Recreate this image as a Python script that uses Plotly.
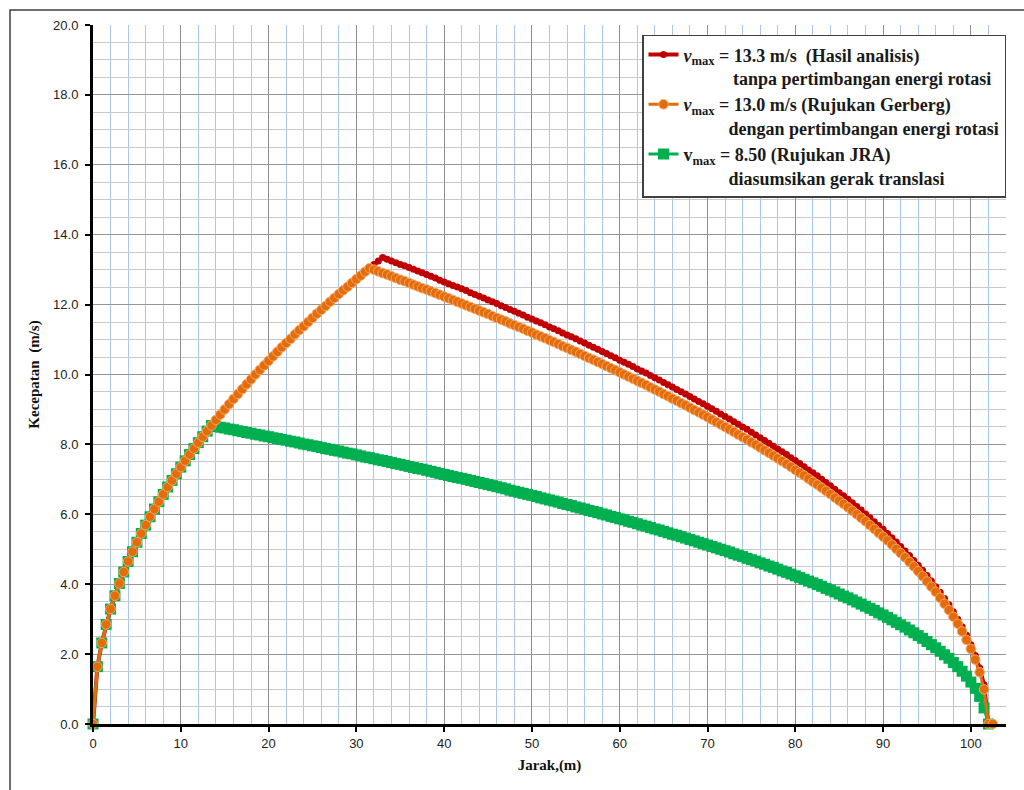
import plotly.graph_objects as go

# Sampling step along the track (m); every series is sampled every 0.5 m from x = 0
STEP_M = 0.5

# v_max = 13.3 m/s (Hasil analisis) - speed (m/s) at x = 0, 0.5, 1.0, ... 102.0 m
V_HASIL = [
    0.00, 1.64, 2.32, 2.85, 3.29, 3.67, 4.02, 4.35, 4.65, 4.93, 5.20, 5.45, 5.69, 5.93, 6.15, 6.36, 6.57, 6.78, 6.97, 7.16,
    7.35, 7.53, 7.71, 7.88, 8.05, 8.22, 8.38, 8.54, 8.70, 8.85, 9.00, 9.15, 9.30, 9.44, 9.58, 9.72, 9.86, 10.00, 10.13, 10.26,
    10.39, 10.52, 10.65, 10.78, 10.90, 11.02, 11.15, 11.27, 11.38, 11.50, 11.62, 11.74, 11.85, 11.96, 12.08, 12.19, 12.30, 12.41, 12.51, 12.62,
    12.73, 12.83, 12.94, 13.04, 13.15, 13.25, 13.35, 13.30, 13.25, 13.20, 13.15, 13.11, 13.06, 13.01, 12.96, 12.91, 12.86, 12.81, 12.76, 12.70,
    12.65, 12.60, 12.55, 12.50, 12.45, 12.40, 12.34, 12.29, 12.24, 12.19, 12.13, 12.08, 12.03, 11.97, 11.92, 11.86, 11.81, 11.75, 11.70, 11.64,
    11.59, 11.53, 11.48, 11.42, 11.36, 11.31, 11.25, 11.19, 11.13, 11.08, 11.02, 10.96, 10.90, 10.84, 10.78, 10.72, 10.66, 10.60, 10.54, 10.48,
    10.41, 10.35, 10.29, 10.23, 10.16, 10.10, 10.04, 9.97, 9.91, 9.84, 9.77, 9.71, 9.64, 9.57, 9.51, 9.44, 9.37, 9.30, 9.23, 9.16,
    9.09, 9.02, 8.95, 8.87, 8.80, 8.73, 8.65, 8.58, 8.50, 8.43, 8.35, 8.27, 8.19, 8.11, 8.03, 7.95, 7.87, 7.79, 7.71, 7.62,
    7.54, 7.45, 7.36, 7.27, 7.19, 7.10, 7.00, 6.91, 6.82, 6.72, 6.62, 6.53, 6.43, 6.33, 6.22, 6.12, 6.01, 5.90, 5.79, 5.68,
    5.57, 5.45, 5.33, 5.21, 5.08, 4.95, 4.82, 4.68, 4.54, 4.40, 4.25, 4.09, 3.93, 3.77, 3.59, 3.41, 3.21, 3.00, 2.78, 2.54,
    2.27, 1.96, 1.60, 1.12, 0.00,
]

# v_max = 13.0 m/s (Rujukan Gerberg) - speed (m/s) at x = 0 ... 102.5 m
V_GERBERG = [
    0.00, 1.64, 2.32, 2.85, 3.29, 3.67, 4.02, 4.35, 4.65, 4.93, 5.20, 5.45, 5.69, 5.93, 6.15, 6.36, 6.57, 6.78, 6.97, 7.16,
    7.35, 7.53, 7.71, 7.88, 8.05, 8.22, 8.38, 8.54, 8.70, 8.85, 9.00, 9.15, 9.30, 9.44, 9.58, 9.72, 9.86, 10.00, 10.13, 10.26,
    10.39, 10.52, 10.65, 10.78, 10.90, 11.02, 11.15, 11.27, 11.38, 11.50, 11.62, 11.74, 11.85, 11.96, 12.08, 12.19, 12.30, 12.41, 12.51, 12.62,
    12.73, 12.83, 12.94, 13.04, 13.00, 12.95, 12.90, 12.86, 12.81, 12.76, 12.71, 12.67, 12.62, 12.57, 12.52, 12.47, 12.43, 12.38, 12.33, 12.28,
    12.23, 12.18, 12.13, 12.08, 12.03, 11.98, 11.93, 11.88, 11.83, 11.78, 11.73, 11.67, 11.62, 11.57, 11.52, 11.46, 11.41, 11.36, 11.31, 11.25,
    11.20, 11.14, 11.09, 11.04, 10.98, 10.93, 10.87, 10.81, 10.76, 10.70, 10.65, 10.59, 10.53, 10.47, 10.42, 10.36, 10.30, 10.24, 10.18, 10.12,
    10.06, 10.00, 9.94, 9.88, 9.82, 9.76, 9.70, 9.63, 9.57, 9.51, 9.44, 9.38, 9.31, 9.25, 9.18, 9.12, 9.05, 8.98, 8.92, 8.85,
    8.78, 8.71, 8.64, 8.57, 8.50, 8.43, 8.36, 8.28, 8.21, 8.14, 8.06, 7.99, 7.91, 7.83, 7.76, 7.68, 7.60, 7.52, 7.44, 7.36,
    7.27, 7.19, 7.11, 7.02, 6.93, 6.85, 6.76, 6.67, 6.58, 6.48, 6.39, 6.30, 6.20, 6.10, 6.00, 5.90, 5.80, 5.69, 5.58, 5.47,
    5.36, 5.25, 5.13, 5.01, 4.89, 4.77, 4.64, 4.51, 4.37, 4.23, 4.08, 3.93, 3.78, 3.61, 3.44, 3.26, 3.07, 2.87, 2.65, 2.41,
    2.15, 1.84, 1.48, 0.99, 0.00, 0.00,
]

# v_max = 8.50 (Rujukan JRA) - speed (m/s) at x = 0 ... 102.0 m
V_JRA = [
    0.00, 1.64, 2.32, 2.85, 3.29, 3.67, 4.02, 4.35, 4.65, 4.93, 5.20, 5.45, 5.69, 5.93, 6.15, 6.36, 6.57, 6.78, 6.97, 7.16,
    7.35, 7.53, 7.71, 7.88, 8.05, 8.22, 8.38, 8.54, 8.51, 8.49, 8.47, 8.44, 8.42, 8.39, 8.37, 8.34, 8.32, 8.29, 8.27, 8.24,
    8.22, 8.19, 8.17, 8.14, 8.12, 8.09, 8.07, 8.04, 8.01, 7.99, 7.96, 7.94, 7.91, 7.88, 7.86, 7.83, 7.81, 7.78, 7.75, 7.73,
    7.70, 7.67, 7.64, 7.62, 7.59, 7.56, 7.54, 7.51, 7.48, 7.45, 7.43, 7.40, 7.37, 7.34, 7.31, 7.29, 7.26, 7.23, 7.20, 7.17,
    7.14, 7.11, 7.08, 7.05, 7.03, 7.00, 6.97, 6.94, 6.91, 6.88, 6.85, 6.82, 6.79, 6.76, 6.73, 6.69, 6.66, 6.63, 6.60, 6.57,
    6.54, 6.51, 6.47, 6.44, 6.41, 6.38, 6.35, 6.31, 6.28, 6.25, 6.21, 6.18, 6.15, 6.11, 6.08, 6.05, 6.01, 5.98, 5.94, 5.91,
    5.87, 5.84, 5.80, 5.77, 5.73, 5.69, 5.66, 5.62, 5.58, 5.55, 5.51, 5.47, 5.43, 5.40, 5.36, 5.32, 5.28, 5.24, 5.20, 5.16,
    5.12, 5.08, 5.04, 5.00, 4.96, 4.92, 4.87, 4.83, 4.79, 4.74, 4.70, 4.66, 4.61, 4.57, 4.52, 4.48, 4.43, 4.38, 4.34, 4.29,
    4.24, 4.19, 4.14, 4.09, 4.04, 3.99, 3.94, 3.88, 3.83, 3.78, 3.72, 3.66, 3.61, 3.55, 3.49, 3.43, 3.37, 3.31, 3.25, 3.18,
    3.12, 3.05, 2.98, 2.91, 2.84, 2.77, 2.69, 2.61, 2.53, 2.45, 2.36, 2.27, 2.18, 2.08, 1.98, 1.88, 1.76, 1.64, 1.51, 1.37,
    1.20, 1.02, 0.79, 0.46, 0.00,
]

NBSP = "\u00a0"
NAME_HASIL = "<i>v</i><sub>max</sub> = 13.3 m/s " + NBSP + "(Hasil analisis)<br>" + NBSP * 11 + "tanpa pertimbangan energi rotasi"
NAME_GERBERG = "<i>v</i><sub>max</sub> = 13.0 m/s (Rujukan Gerberg)<br>" + NBSP * 10 + "dengan pertimbangan energi rotasi"
NAME_JRA = "v<sub>max</sub> = 8.50 (Rujukan JRA)<br>" + NBSP * 10 + "diasumsikan gerak translasi"

X_TITLE = "Jarak,(m)"
Y_TITLE = "Kecepatan" + NBSP * 2 + "(m/s)"


def xs(values):
    return [i * STEP_M for i in range(len(values))]


fig = go.Figure()

fig.add_trace(go.Scatter(
    x=xs(V_HASIL), y=V_HASIL, name=NAME_HASIL, mode="lines+markers",
    line=dict(color="#C00000", width=4),
    marker=dict(symbol="circle", size=7, color="#C00000"),
    legendrank=1, cliponaxis=False,
))
fig.add_trace(go.Scatter(
    x=xs(V_JRA), y=V_JRA, name=NAME_JRA, mode="lines+markers",
    line=dict(color="#00B050", width=3),
    marker=dict(symbol="square", size=11, color="#00B050", line=dict(color="#00B050", width=0)),
    legendrank=3, cliponaxis=False,
))
fig.add_trace(go.Scatter(
    x=xs(V_GERBERG), y=V_GERBERG, name=NAME_GERBERG, mode="lines+markers",
    line=dict(color="#E46C0A", width=3),
    marker=dict(symbol="circle", size=9.5, color="#E46C0A", line=dict(color="#F2A66A", width=1)),
    legendrank=2, cliponaxis=False,
))

axis_font = dict(family="Liberation Sans, Arial, sans-serif", size=13, color="#222222")
title_font = dict(family="Liberation Serif, Times New Roman, serif", size=15, color="#111111", weight="bold")

fig.update_xaxes(
    range=[0, 104], tick0=0, dtick=10, showline=True, linecolor="black", linewidth=3,
    ticks="outside", ticklen=5, tickwidth=2, tickcolor="black",
    showgrid=True, gridcolor="#8f8f8f", gridwidth=1, zeroline=False,
    minor=dict(dtick=2, showgrid=True, gridcolor="#a8c6ee", gridwidth=1, ticks=""),
    tickfont=axis_font,
    title=dict(text=X_TITLE, font=title_font, standoff=10),
)
fig.update_yaxes(
    range=[0, 20], tick0=0, dtick=2, tickformat=".1f", showline=True, linecolor="black", linewidth=3,
    ticks="outside", ticklen=5, tickwidth=2, tickcolor="black",
    showgrid=True, gridcolor="#969696", gridwidth=1, zeroline=False,
    minor=dict(dtick=0.5, showgrid=True, gridcolor="#c9c9c9", gridwidth=1, ticks=""),
    tickfont=axis_font, ticklabelstandoff=4,
    title=dict(text=Y_TITLE, font=title_font, standoff=10),
)

fig.update_layout(
    width=1024, height=790,
    margin=dict(l=93, r=18, t=25, b=66),
    paper_bgcolor="white", plot_bgcolor="white",
    showlegend=True,
    legend=dict(
        x=1, xanchor="right", y=0.986, yanchor="top",
        bgcolor="white", bordercolor="#404040", borderwidth=1.5,
        font=dict(family="Liberation Serif, Times New Roman, serif", size=18, color="#1a1a1a", weight="bold"),
        valign="top", itemwidth=30, tracegroupgap=0,
    ),
    shapes=[dict(
        type="rect", xref="paper", yref="paper",
        x0=-0.0909, x1=1.06, y0=-0.2, y1=1.0215,
        line=dict(color="#404040", width=1.5), fillcolor="rgba(0,0,0,0)", layer="above",
    )],
)

fig.write_html(
    "out.html",
    config={"displayModeBar": False},
    post_script="document.body.style.margin='0';document.body.style.overflow='hidden';",
)
